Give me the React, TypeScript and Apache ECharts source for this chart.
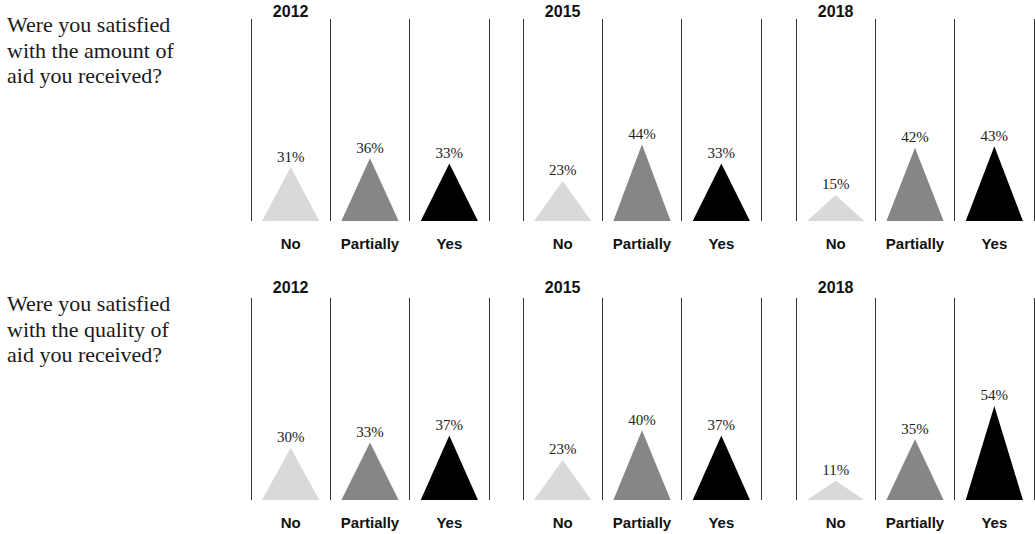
import React, { useEffect, useRef } from "react";
import * as echarts from "echarts";

const years = ["2012", "2015", "2018"];
const categories = ["No", "Partially", "Yes"];
const questions = [
  "Were you satisfied\nwith the amount of\naid you received?",
  "Were you satisfied\nwith the quality of\naid you received?",
];
const amount2012 = [31, 36, 33];
const amount2015 = [23, 44, 33];
const amount2018 = [15, 42, 43];
const quality2012 = [30, 33, 37];
const quality2015 = [23, 40, 37];
const quality2018 = [11, 35, 54];
const rows = [
  [amount2012, amount2015, amount2018],
  [quality2012, quality2015, quality2018],
];
const barColors = ["#d9d9d9", "#868686", "#000000"];

const panelLefts = [251, 523, 796];
const panelWidth = 238;
const rowTops = [19, 298];
const yearYs = [11, 287];
const rowHeight = 202;
const yMax = 116;

export default function App() {
  const ref = useRef<HTMLDivElement>(null);
  useEffect(() => {
    if (!ref.current) return;
    const chart = echarts.init(ref.current, null, { renderer: "svg" });
    const grid: any[] = [];
    const xAxis: any[] = [];
    const yAxis: any[] = [];
    const series: any[] = [];
    const graphic: any[] = [];
    rows.forEach((row, r) => {
      graphic.push({
        type: "text",
        left: 7,
        top: rowTops[r] - 7,
        style: {
          text: questions[r],
          font: '22px "Liberation Serif"',
          lineHeight: 25.5,
          fill: "#1a1a1a",
        },
      });
      row.forEach((vals, p) => {
        const idx = grid.length;
        grid.push({
          left: panelLefts[p],
          top: rowTops[r],
          width: panelWidth,
          height: rowHeight,
          containLabel: false,
        });
        xAxis.push({
          type: "category",
          gridIndex: idx,
          data: categories,
          axisLine: { show: false },
          axisTick: { show: false },
          splitLine: { show: true, lineStyle: { color: "#333", width: 1 } },
          axisLabel: {
            color: "#111",
            fontFamily: "Liberation Sans",
            fontWeight: "bold",
            fontSize: 15,
            margin: 15,
          },
        });
        yAxis.push({
          type: "value",
          gridIndex: idx,
          min: 0,
          max: yMax,
          show: false,
          splitLine: { show: false },
        });
        series.push({
          type: "pictorialBar",
          xAxisIndex: idx,
          yAxisIndex: idx,
          symbol: "triangle",
          barCategoryGap: "28%",
          data: vals.map((v, i) => ({ value: v, itemStyle: { color: barColors[i] } })),
          label: {
            show: true,
            position: "top",
            distance: 3,
            formatter: "{c}%",
            fontFamily: "Liberation Serif",
            fontSize: 15,
            color: "#222",
          },
        });
        graphic.push({
          type: "text",
          x: panelLefts[p] + panelWidth / 6,
          y: yearYs[r],
          style: {
            text: years[p],
            font: 'bold 16px "Liberation Sans"',
            fill: "#111",
            align: "center",
            verticalAlign: "middle",
          },
        });
      });
    });
    chart.setOption({
      animation: false,
      backgroundColor: "#fff",
      grid,
      xAxis,
      yAxis,
      series,
      graphic,
    });
    return () => chart.dispose();
  }, []);
  return (
    <div
      ref={ref}
      style={{ position: "fixed", left: 0, top: 0, width: 1035, height: 534 }}
    />
  );
}
